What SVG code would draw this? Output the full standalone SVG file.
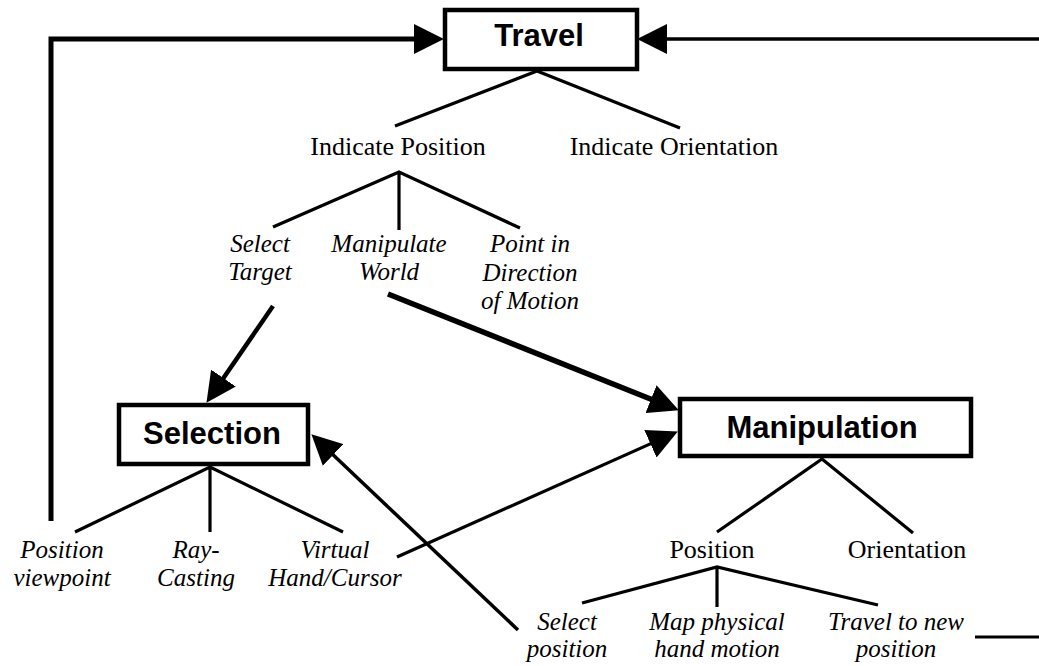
<svg xmlns="http://www.w3.org/2000/svg" width="1039" height="666" viewBox="0 0 1039 666">
<style>
.box{fill:#fff;stroke:#000;stroke-width:4.5}
.title{font-family:"Liberation Sans",Arial,sans-serif;font-weight:bold;font-size:31px;text-anchor:middle;fill:#000}
.lbl{font-family:"Liberation Serif","Times New Roman",serif;font-size:26px;text-anchor:middle;fill:#000}
.it{font-family:"Liberation Serif","Times New Roman",serif;font-style:italic;font-size:25px;text-anchor:middle;fill:#000}
.tree{stroke:#000;stroke-width:3.2;fill:none}
.arr{stroke:#000;fill:none;stroke-linejoin:miter}
</style>
<defs>
<marker id="ah" markerUnits="userSpaceOnUse" markerWidth="30" markerHeight="30" viewBox="0 0 26 26" refX="20" refY="13" orient="auto">
<path d="M0,0 L26,13 L0,26 z" fill="#000"/>
</marker>
</defs>
<g id="connectors">
<path class="arr" stroke-width="5" d="M51,521 L51,39 L437,39" marker-end="url(#ah)"/>
<path class="arr" stroke-width="3.5" d="M1039,39 L644,39" marker-end="url(#ah)"/>
<line class="arr" stroke-width="4.5" x1="273" y1="306" x2="210.4" y2="397.1" marker-end="url(#ah)"/>
<line class="arr" stroke-width="5.5" x1="388" y1="294" x2="672.4" y2="407.8" marker-end="url(#ah)"/>
<line class="arr" stroke-width="3.2" x1="397" y1="557" x2="671.5" y2="434.4" marker-end="url(#ah)"/>
<line class="arr" stroke-width="3.5" x1="518" y1="630" x2="316.4" y2="439.1" marker-end="url(#ah)"/>
<line class="tree" x1="975" y1="637" x2="1039" y2="637"/>
<path class="tree" d="M395,126 L537,71 L680,128"/>
<path class="tree" d="M273,227 L399,172 L520,228 M399,172 L399,230"/>
<path class="tree" d="M75,532 L210,467 L343,532 M210,467 L210,532"/>
<path class="tree" d="M717,532 L822,459 L913,533"/>
<path class="tree" d="M582,603 L717,567 L878,605 M717,567 L717,607"/>
</g>
<g id="travel">
<rect class="box" x="445" y="10" width="192" height="59"/>
<text class="title" x="539" y="46">Travel</text>
</g>
<g id="indicate-position"><text class="lbl" x="398" y="155">Indicate Position</text></g>
<g id="indicate-orientation"><text class="lbl" x="674" y="155">Indicate Orientation</text></g>
<g id="select-target"><text class="it" x="260" y="252">Select</text><text class="it" x="260" y="280">Target</text></g>
<g id="manipulate-world"><text class="it" x="389" y="252">Manipulate</text><text class="it" x="389" y="280">World</text></g>
<g id="point-direction"><text class="it" x="530" y="252">Point in</text><text class="it" x="530" y="281">Direction</text><text class="it" x="530" y="309">of Motion</text></g>
<g id="selection">
<rect class="box" x="119" y="405" width="189" height="59"/>
<text class="title" x="212" y="444">Selection</text>
</g>
<g id="manipulation">
<rect class="box" x="680" y="399" width="291" height="57"/>
<text class="title" x="822" y="438">Manipulation</text>
</g>
<g id="position-viewpoint"><text class="it" x="62" y="558">Position</text><text class="it" x="62" y="586">viewpoint</text></g>
<g id="ray-casting"><text class="it" x="196" y="558">Ray-</text><text class="it" x="196" y="586">Casting</text></g>
<g id="virtual-hand"><text class="it" x="335" y="558">Virtual</text><text class="it" x="335" y="586">Hand/Cursor</text></g>
<g id="position"><text class="lbl" x="712" y="558">Position</text></g>
<g id="orientation"><text class="lbl" x="907" y="558">Orientation</text></g>
<g id="select-position"><text class="it" x="567" y="630">Select</text><text class="it" x="567" y="657">position</text></g>
<g id="map-physical"><text class="it" x="717" y="630">Map physical</text><text class="it" x="717" y="657">hand motion</text></g>
<g id="travel-new"><text class="it" x="896" y="630">Travel to new</text><text class="it" x="896" y="657">position</text></g>
</svg>
